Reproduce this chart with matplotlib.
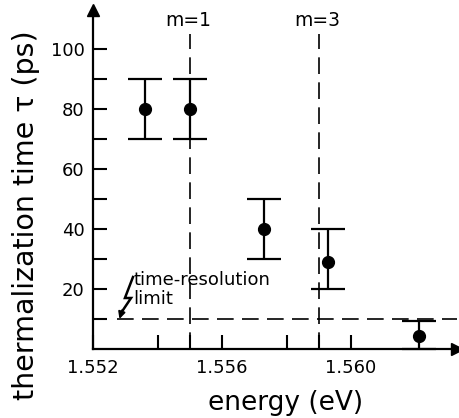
import numpy as np
import matplotlib
matplotlib.use("Agg")
import matplotlib.pyplot as plt

# Data
energy = [1.5536, 1.5550, 1.5573, 1.5593, 1.5621]      # eV
tau = [80, 80, 40, 29, 4.5]                             # ps
tau_low = [70, 70, 30, 20, 0]
tau_high = [90, 90, 50, 40, 9.5]

m_lines = [1.555, 1.559]
m_labels = ["m=1", "m=3"]
resolution_limit = 10

xticks_major = [1.552, 1.556, 1.560]
xticks_minor = [1.554, 1.555, 1.558, 1.559]
yticks_major = [20, 40, 60, 80, 100]
yticks_minor = [10, 30, 50, 70, 90]

plt.rcParams["font.family"] = ["DejaVu Sans"]

fig = plt.figure(figsize=(4.59, 4.18), dpi=100)
ax = fig.add_axes([93 / 459, 69 / 418, 364 / 459, 339 / 418])

xmin = 1.552
xmax = 1.552 + 364 / 32.25 * 0.001
ax.set_xlim(xmin, xmax)
ax.set_ylim(0, 113)

# error bars
yerr = [np.array(tau) - np.array(tau_low), np.array(tau_high) - np.array(tau)]
ax.errorbar(energy, tau, yerr=yerr, fmt="o", color="black", markersize=8.5,
            capsize=12, capthick=1.6, elinewidth=1.6, zorder=3, clip_on=False)

dash = (0, (10, 5))
# time-resolution limit
ax.axhline(resolution_limit, xmin=(1.55275 - xmin) / (xmax - xmin), color="black",
           lw=1.2, linestyle=dash)
# m lines
for xm, lab in zip(m_lines, m_labels):
    ax.plot([xm, xm], [0, 105], color="black", lw=1.2, linestyle=dash)
    ax.text(xm - 0.00005, 109.5, lab, ha="center", va="center", fontsize=13.5)

# lightning bolt pointing to the limit line
bx = [1.55324, 1.55299, 1.55318, 1.55290]
by = [24, 17, 17, 12.5]
ax.plot(bx, by, color="black", lw=1.8, solid_joinstyle="miter")
ax.annotate("", xy=(1.55282, 10), xytext=(1.55291, 13),
            arrowprops=dict(arrowstyle="-|>", color="black", lw=1.4,
                            mutation_scale=10, shrinkA=0, shrinkB=0))
ax.text(1.55326, 19.8, "time-resolution\nlimit", ha="left", va="center",
        fontsize=13, linespacing=1.1)

# axes styling
for s in ["top", "right"]:
    ax.spines[s].set_visible(False)
for s in ["left", "bottom"]:
    ax.spines[s].set_linewidth(1.6)

ax.set_xticks(xticks_major)
ax.set_xticks(xticks_minor, minor=True)
ax.set_xticklabels(["1.552", "1.556", "1.560"])
ax.set_yticks(yticks_major)
ax.set_yticks(yticks_minor, minor=True)
ax.tick_params(which="both", direction="in", length=10, width=1.5,
               labelsize=13, pad=6)
ax.tick_params(axis="x", which="major", pad=7)

# arrows at the ends of the axes
ax.plot(1, 0, marker=">", markersize=9, color="black", transform=ax.transAxes,
        clip_on=False)
ax.plot(0, 1, marker="^", markersize=9, color="black", transform=ax.transAxes,
        clip_on=False)

ax.set_xlabel("energy (eV)", fontsize=19)
ax.xaxis.set_label_coords(0.53, -0.12)
ax.set_ylabel("thermalization time \u03c4 (ps)", fontsize=20.5)
ax.yaxis.set_label_coords(-0.145, 0.395)

fig.savefig("out.png", dpi=100)
